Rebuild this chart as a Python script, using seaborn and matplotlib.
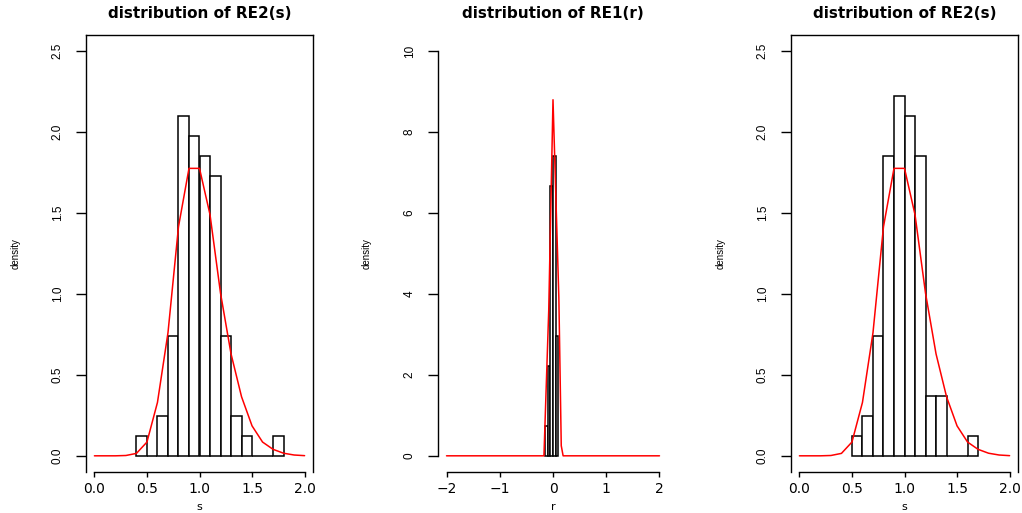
import matplotlib
matplotlib.use("Agg")
import matplotlib.pyplot as plt
import seaborn as sns

# bin edges / counts (81 draws per panel)
s1_edges = [0.4, 0.5, 0.6, 0.7, 0.8, 0.9, 1.0, 1.1, 1.2, 1.3, 1.4, 1.5, 1.6, 1.7, 1.8]
s1_counts = [1, 0, 2, 6, 17, 16, 15, 14, 6, 2, 1, 0, 0, 1]

r_edges = [-0.15, -0.10, -0.05, 0.0, 0.05, 0.10]
r_counts = [3, 9, 27, 30, 12]

s2_edges = [0.5, 0.6, 0.7, 0.8, 0.9, 1.0, 1.1, 1.2, 1.3, 1.4, 1.5, 1.6, 1.7]
s2_counts = [1, 2, 6, 15, 18, 17, 15, 3, 3, 0, 0, 1]

# red density curves
s_grid = [0.0, 0.1, 0.2, 0.3, 0.4, 0.5, 0.6, 0.7, 0.8, 0.9, 1.0,
          1.1, 1.2, 1.3, 1.4, 1.5, 1.6, 1.7, 1.8, 1.9, 2.0]
s_dens = [0.0, 0.0, 0.0, 0.002, 0.015, 0.085, 0.33, 0.76, 1.415, 1.776, 1.776,
          1.49, 1.005, 0.63, 0.365, 0.185, 0.085, 0.04, 0.016, 0.005, 0.001]

r_grid = [-2.0, -0.17, -0.08, 0.0, 0.11, 0.155, 0.19, 2.0]
r_dens = [0.0, 0.0, 3.6, 8.8, 3.9, 0.25, 0.0, 0.0]

titles = ["distribution of RE2(s)", "distribution of RE1(r)", "distribution of RE2(s)"]
xlabels = ["s", "r", "s"]

sns.set_style("white")
plt.rcParams["font.family"] = ["DejaVu Sans"]
plt.rcParams["text.color"] = "black"
plt.rcParams["axes.labelcolor"] = "black"
plt.rcParams["xtick.color"] = "black"
plt.rcParams["ytick.color"] = "black"

fig = plt.figure(figsize=(10.22, 5.13), dpi=100)
positions = [
    [86 / 1022, 41 / 513, 227 / 1022, 437 / 513],
    [438 / 1022, 41 / 513, 230 / 1022, 437 / 513],
    [791 / 1022, 41 / 513, 227 / 1022, 437 / 513],
]


def draw_panel(ax, edges, counts, grid, dens, title, xlab, xr, yr, xticks, xtl, yticks, ytl, boxed):
    mids = [(a + b) / 2 for a, b in zip(edges[:-1], edges[1:])]
    sns.histplot(x=mids, weights=counts, bins=edges, stat="density", ax=ax,
                 color="white", edgecolor="black", linewidth=1.1, alpha=1)
    sns.lineplot(x=grid, y=dens, ax=ax, color="red", linewidth=1.1)

    # R style 4% padding around the data range
    ax.set_xlim(xr[0] - 0.04 * (xr[1] - xr[0]), xr[1] + 0.04 * (xr[1] - xr[0]))
    ax.set_ylim(yr[0] - 0.04 * (yr[1] - yr[0]), yr[1] + 0.04 * (yr[1] - yr[0]))

    ax.set_xticks(xticks, labels=xtl, fontsize=10)
    ax.set_yticks(yticks, labels=ytl, fontsize=8.5, family="Liberation Sans",
                  rotation=90, va="center")
    ax.tick_params(axis="y", length=7, width=1, pad=9, direction="out", left=True)
    ax.tick_params(axis="x", length=3.5, width=1, pad=3.5, direction="out", bottom=True)

    for sp in ax.spines.values():
        sp.set_linewidth(1.0)
        sp.set_color("black")
    ax.spines["bottom"].set_bounds(xr[0], xr[1])
    if boxed:
        ax.spines["top"].set_visible(True)
        ax.spines["right"].set_visible(True)
    else:
        ax.spines["top"].set_visible(False)
        ax.spines["right"].set_visible(False)
        ax.spines["left"].set_bounds(yr[0], yr[1])

    ax.set_title(title, fontsize=11, fontweight="bold", pad=12)
    ax.set_xlabel(xlab, fontsize=8)
    ax.set_ylabel("density", fontsize=7, family="Liberation Sans")
    ax.xaxis.set_label_coords(0.5, -0.068)
    ax.yaxis.set_label_coords(-0.29, 0.5)
    ax.grid(False)


s_xt = [0.0, 0.5, 1.0, 1.5, 2.0]
s_xtl = ["0.0", "0.5", "1.0", "1.5", "2.0"]
s_yt = [0.0, 0.5, 1.0, 1.5, 2.0, 2.5]
s_ytl = ["0.0", "0.5", "1.0", "1.5", "2.0", "2.5"]

ax1 = fig.add_axes(positions[0])
draw_panel(ax1, s1_edges, s1_counts, s_grid, s_dens, titles[0], xlabels[0],
           (0, 2), (0, 2.5), s_xt, s_xtl, s_yt, s_ytl, True)

ax2 = fig.add_axes(positions[1])
draw_panel(ax2, r_edges, r_counts, r_grid, r_dens, titles[1], xlabels[1],
           (-2, 2), (0, 10), [-2, -1, 0, 1, 2], ["\u22122", "\u22121", "0", "1", "2"],
           [0, 2, 4, 6, 8, 10], ["0", "2", "4", "6", "8", "10"], False)

ax3 = fig.add_axes(positions[2])
draw_panel(ax3, s2_edges, s2_counts, s_grid, s_dens, titles[2], xlabels[2],
           (0, 2), (0, 2.5), s_xt, s_xtl, s_yt, s_ytl, True)

fig.savefig("out.png", dpi=100, facecolor="white")
